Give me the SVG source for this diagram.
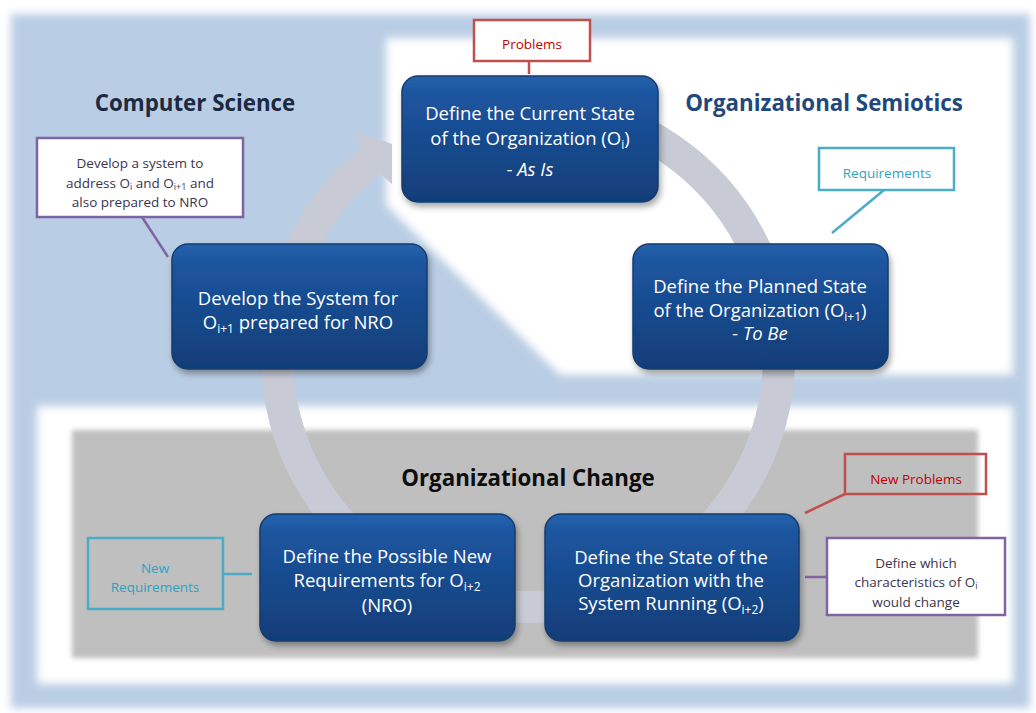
<svg xmlns="http://www.w3.org/2000/svg" width="1036" height="713" viewBox="0 0 1036 713">
<defs>
<filter id="blur4" x="-5%" y="-5%" width="110%" height="110%"><feGaussianBlur stdDeviation="4"/></filter>
<filter id="blur2" x="-5%" y="-5%" width="110%" height="110%"><feGaussianBlur stdDeviation="2.5"/></filter>
<filter id="shadow" x="-10%" y="-10%" width="125%" height="130%"><feDropShadow dx="2" dy="4" stdDeviation="3" flood-color="#000" flood-opacity="0.35"/></filter>
<linearGradient id="nodeGrad" x1="0" y1="0" x2="0" y2="1">
<stop offset="0" stop-color="#2462ad"/>
<stop offset="0.15" stop-color="#1c559f"/>
<stop offset="1" stop-color="#113d78"/>
</linearGradient>
<style>
.node rect{fill:url(#nodeGrad);stroke:#163c6c;stroke-width:1.5;filter:url(#shadow)}
.nt{font-family:"Open Sans","Liberation Sans",sans-serif;font-size:18.5px;fill:#ffffff;text-anchor:middle}
.sub{font-size:12px}
.title{font-family:"Open Sans","Liberation Sans",sans-serif;font-weight:bold;font-size:22.3px;text-anchor:middle}
.ct{font-family:"Open Sans","Liberation Sans",sans-serif;font-size:13.5px;text-anchor:middle}
.csub{font-size:9px}
.red{stroke:#c0504d;stroke-width:2.5}
.teal{stroke:#4bacc6;stroke-width:2.5}
.purple{stroke:#8064a2;stroke-width:2.5}
</style>
</defs>
<!-- background -->
<rect x="0" y="0" width="1036" height="713" fill="#ffffff"/>
<rect x="11" y="14" width="1019" height="694" fill="#b9cde4" filter="url(#blur4)"/>
<polygon points="386,38 1013,38 1013,375 560,375 386,205" fill="#ffffff" filter="url(#blur4)"/>
<rect x="37" y="406" width="976" height="278" fill="#ffffff" filter="url(#blur4)"/>
<rect x="72" y="430" width="906" height="228" fill="#bfbfbf" filter="url(#blur2)"/>

<g id="titles">
<text class="title" x="195" y="111" fill="#1b2a41">Computer Science</text>
<text class="title" x="824" y="111" fill="#1f497d">Organizational Semiotics</text>
<text class="title" x="528" y="486" fill="#0d0d0d">Organizational Change</text>
</g>

<g id="connectors">
<path d="M 571.6 108.8 A 251 251 0 1 1 370 161" fill="none" stroke="#c8cbd6" stroke-width="32"/>
<polygon points="360,148.5 355,131 392,144 392,184 380,173.4" fill="#c8cbd6"/>
<line class="red" x1="529" y1="61" x2="529" y2="74"/>
<line class="teal" x1="884" y1="190" x2="832" y2="233"/>
<line class="purple" x1="142" y1="217" x2="168" y2="257"/>
<line class="teal" x1="223" y1="574" x2="252" y2="574"/>
<line class="red" x1="845" y1="494" x2="805" y2="513"/>
<line class="purple" x1="805" y1="577" x2="827" y2="577"/>
</g>

<g id="node-current" class="node">
<rect x="402" y="76" width="256" height="126" rx="16"/>
<text class="nt" x="530" y="120">Define the Current State</text>
<text class="nt" x="530" y="145">of the Organization (O<tspan class="sub" dy="4">i</tspan><tspan dy="-4">)</tspan></text>
<text class="nt" x="530" y="176" font-style="italic">- As Is</text>
</g>

<g id="node-planned" class="node">
<rect x="633" y="244" width="255" height="125" rx="16"/>
<text class="nt" x="760" y="293">Define the Planned State</text>
<text class="nt" x="760" y="317">of the Organization (O<tspan class="sub" dy="4">i+1</tspan><tspan dy="-4">)</tspan></text>
<text class="nt" x="760" y="340" font-style="italic">- To Be</text>
</g>

<g id="node-running" class="node">
<rect x="545" y="514" width="254" height="127" rx="16"/>
<text class="nt" x="671" y="564">Define the State of the</text>
<text class="nt" x="671" y="587">Organization with the</text>
<text class="nt" x="671" y="610">System Running (O<tspan class="sub" dy="4">i+2</tspan><tspan dy="-4">)</tspan></text>
</g>

<g id="node-nro" class="node">
<rect x="260" y="514" width="255" height="127" rx="16"/>
<text class="nt" x="387" y="563">Define the Possible New</text>
<text class="nt" x="387" y="587">Requirements for O<tspan class="sub" dy="4">i+2</tspan></text>
<text class="nt" x="387" y="612">(NRO)</text>
</g>

<g id="node-develop" class="node">
<rect x="172" y="244" width="255" height="125" rx="16"/>
<text class="nt" x="298" y="305">Develop the System for</text>
<text class="nt" x="298" y="329">O<tspan class="sub" dy="4">i+1</tspan><tspan dy="-4"> prepared for NRO</tspan></text>
</g>

<g id="callout-problems">
<rect class="red" x="474" y="20" width="116" height="41" fill="#ffffff"/>
<text class="ct" x="532" y="49" fill="#c00000">Problems</text>
</g>

<g id="callout-requirements">
<rect class="teal" x="819" y="148" width="135" height="42" fill="#ffffff"/>
<text class="ct" x="887" y="178" fill="#31a2bf">Requirements</text>
</g>

<g id="callout-develop">
<rect class="purple" x="37" y="138" width="206" height="79" fill="#ffffff"/>
<text class="ct" x="140" y="168" fill="#3b3550">Develop a system to</text>
<text class="ct" x="140" y="188" fill="#3b3550">address O<tspan class="csub" dy="2">i</tspan><tspan dy="-2"> and O</tspan><tspan class="csub" dy="2">i+1</tspan><tspan dy="-2"> and</tspan></text>
<text class="ct" x="140" y="207" fill="#3b3550">also prepared to NRO</text>
</g>

<g id="callout-new-requirements">
<rect class="teal" x="88" y="538" width="135" height="71" fill="none"/>
<text class="ct" x="155" y="573" fill="#31a2bf">New</text>
<text class="ct" x="155" y="592" fill="#31a2bf">Requirements</text>
</g>

<g id="callout-new-problems">
<rect class="red" x="845" y="454" width="141" height="40" fill="none"/>
<text class="ct" x="916" y="484" fill="#c00000">New Problems</text>
</g>

<g id="callout-characteristics">
<rect class="purple" x="827" y="538" width="178" height="77" fill="#ffffff"/>
<text class="ct" x="916" y="568" fill="#3b3550">Define which</text>
<text class="ct" x="916" y="587" fill="#3b3550">characteristics of O<tspan class="csub" dy="2">i</tspan></text>
<text class="ct" x="916" y="607" fill="#3b3550">would change</text>
</g>
</svg>
